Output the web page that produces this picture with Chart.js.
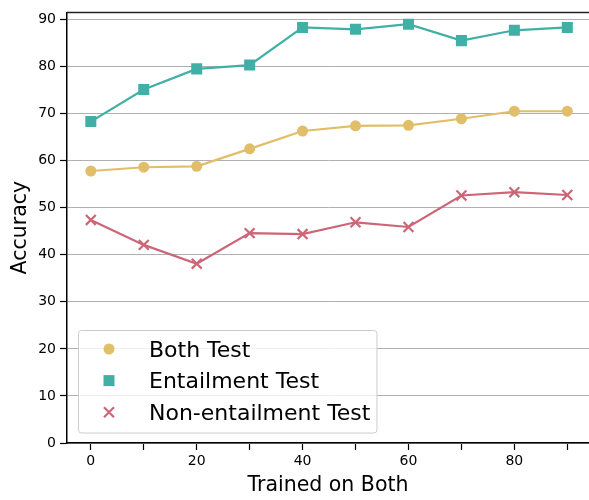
<!DOCTYPE html>
<html>
<head>
<meta charset="utf-8">
<script src="https://cdn.jsdelivr.net/npm/chart.js@4"></script>
<style>
  html, body { margin: 0; padding: 0; background: #fff; }
  #wrap { width: 589px; height: 500px; }
</style>
</head>
<body>
<div id="wrap"><canvas id="grafico" width="589" height="500"></canvas></div>
<script>
// dados
const trainedOnBoth = [0, 10, 20, 30, 40, 50, 60, 70, 80, 90];
const bothTest = [57.8, 58.6, 58.8, 62.5, 66.3, 67.4, 67.5, 68.9, 70.5, 70.5];
const entailmentTest = [68.3, 75.1, 79.5, 80.3, 88.3, 87.9, 89.0, 85.5, 87.7, 88.3];
const nonEntailmentTest = [47.4, 42.1, 38.1, 44.6, 44.4, 46.9, 45.9, 52.6, 53.3, 52.7];
const seriesNames = ['Both Test', 'Entailment Test', 'Non-entailment Test'];
const xTickValues = [0, 10, 20, 30, 40, 50, 60, 70, 80, 90];
const xTickLabels = ['0', '', '20', '', '40', '', '60', '', '80', ''];
const yTickValues = [0, 10, 20, 30, 40, 50, 60, 70, 80, 90];

const FONT = "'DejaVu Sans', sans-serif";
const pontos = ys => trainedOnBoth.map((x, i) => ({ x: x, y: ys[i] }));

// borda de cima do gráfico
const bordaTopo = {
    id: 'bordaTopo',
    afterDraw(chart) {
        const { ctx, chartArea } = chart;
        ctx.save();
        ctx.strokeStyle = '#222';
        ctx.lineWidth = 1.5;
        ctx.beginPath();
        ctx.moveTo(chartArea.left, chartArea.top);
        ctx.lineTo(chartArea.right, chartArea.top);
        ctx.stroke();
        ctx.restore();
    }
};

// legenda desenhada dentro do gráfico
const legendaInterna = {
    id: 'legendaInterna',
    afterDraw(chart) {
        const ctx = chart.ctx;
        const left = 78, top = 330, markerX = 109, textX = 149, rowH = 31.6, firstRow = 349;
        ctx.save();
        ctx.font = '22px ' + FONT;
        let maxW = 0;
        chart.data.datasets.forEach(ds => { maxW = Math.max(maxW, ctx.measureText(ds.label).width); });
        const w = textX + maxW + 6 - left;
        const h = 102.5;
        ctx.fillStyle = 'rgba(255,255,255,0.8)';
        ctx.strokeStyle = '#cccccc';
        ctx.lineWidth = 1;
        ctx.beginPath();
        ctx.roundRect(left + 0.5, top + 0.5, w, h, 3);
        ctx.fill();
        ctx.stroke();

        chart.data.datasets.forEach((ds, i) => {
            const y = firstRow + i * rowH;
            ctx.fillStyle = ds.pointBackgroundColor;
            ctx.strokeStyle = ds.pointBorderColor;
            if (ds.pointStyle === 'circle') {
                ctx.beginPath();
                ctx.arc(markerX, y, 5.5, 0, Math.PI * 2);
                ctx.fill();
            } else if (ds.pointStyle === 'rect') {
                ctx.fillRect(markerX - 5.5, y - 5.5, 11, 11);
            } else {
                ctx.lineWidth = 2.2;
                ctx.beginPath();
                ctx.moveTo(markerX - 5, y - 5); ctx.lineTo(markerX + 5, y + 5);
                ctx.moveTo(markerX - 5, y + 5); ctx.lineTo(markerX + 5, y - 5);
                ctx.stroke();
            }
            ctx.fillStyle = '#000';
            ctx.textBaseline = 'alphabetic';
            ctx.fillText(ds.label, textX, y + 7.5);
        });
        ctx.restore();
    }
};

const ctx = document.getElementById('grafico').getContext('2d');

const meuGrafico = new Chart(ctx, {
    type: 'line',
    data: {
        datasets: [
            {
                label: seriesNames[0],
                data: pontos(bothTest),
                borderColor: '#E1BE6A',
                backgroundColor: '#E1BE6A',
                pointBackgroundColor: '#E1BE6A',
                pointBorderColor: '#E1BE6A',
                pointStyle: 'circle',
                pointRadius: 5.5,
                pointBorderWidth: 0,
                borderWidth: 2.2
            },
            {
                label: seriesNames[1],
                data: pontos(entailmentTest),
                borderColor: '#40B0A6',
                backgroundColor: '#40B0A6',
                pointBackgroundColor: '#40B0A6',
                pointBorderColor: '#40B0A6',
                pointStyle: 'rect',
                pointRadius: 7.8,
                pointBorderWidth: 0,
                borderWidth: 2.2
            },
            {
                label: seriesNames[2],
                data: pontos(nonEntailmentTest),
                borderColor: '#CC6677',
                backgroundColor: '#CC6677',
                pointBackgroundColor: '#CC6677',
                pointBorderColor: '#CC6677',
                pointStyle: 'crossRot',
                pointRadius: 7,
                pointBorderWidth: 2.2,
                borderWidth: 2.2
            }
        ]
    },
    options: {
        responsive: false,
        animation: false,
        layout: { autoPadding: false, padding: { top: 10, left: 0, right: 0, bottom: 0 } },
        plugins: {
            legend: { display: false },
            tooltip: { enabled: false }
        },
        scales: {
            x: {
                type: 'linear',
                min: -4.5,
                max: 94.1,
                afterFit: s => { s.height = 57; },
                afterBuildTicks: s => { s.ticks = xTickValues.map(v => ({ value: v })); },
                grid: { drawOnChartArea: false, drawTicks: true, tickLength: 7, tickColor: '#000', tickWidth: 1.2 },
                border: { color: '#000', width: 1.5 },
                ticks: {
                    autoSkip: false,
                    maxRotation: 0,
                    padding: 3,
                    color: '#000',
                    font: { family: FONT, size: 14 },
                    callback: (v, i) => xTickLabels[i]
                },
                title: {
                    display: true,
                    text: 'Trained on Both',
                    color: '#000',
                    font: { family: FONT, size: 20.5 },
                    padding: { top: 0, bottom: 2 }
                }
            },
            y: {
                min: 0,
                max: 91.5,
                afterFit: s => { s.width = 67; },
                afterBuildTicks: s => { s.ticks = yTickValues.map(v => ({ value: v })); },
                grid: { color: '#b0b0b0', lineWidth: 1, drawTicks: true, tickLength: 7, tickColor: '#000', tickWidth: 1.2 },
                border: { color: '#000', width: 1.5 },
                ticks: {
                    padding: 4,
                    color: '#000',
                    font: { family: FONT, size: 14 }
                },
                title: {
                    display: true,
                    text: 'Accuracy',
                    color: '#000',
                    font: { family: FONT, size: 20.5 },
                    padding: { top: 8, bottom: 0 }
                }
            }
        }
    },
    plugins: [bordaTopo, legendaInterna]
});
</script>
</body>
</html>
